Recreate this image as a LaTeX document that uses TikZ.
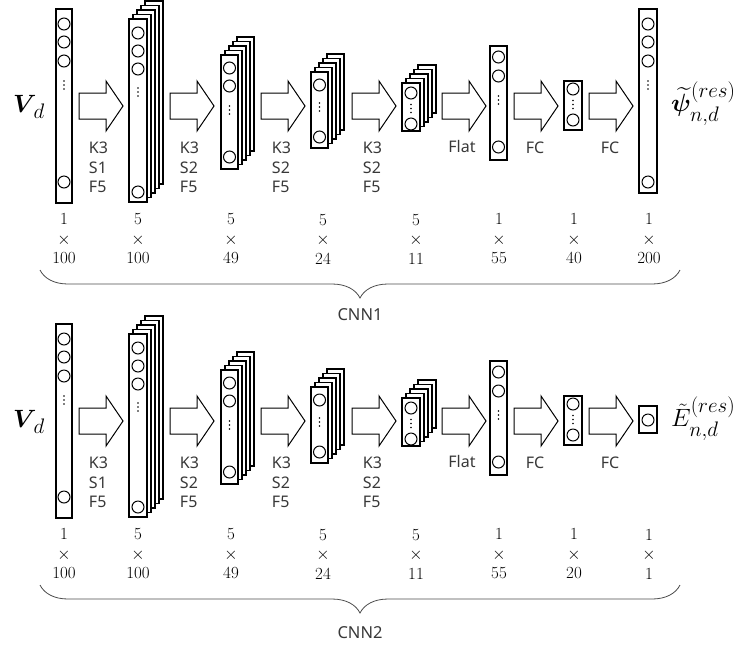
\RequirePackage{fix-cm}
\documentclass[tikz,border=0pt]{standalone}
\usepackage{amsmath,bm}
\usepackage{fontspec}
\newfontfamily\opfamily{Noto Sans}
\usetikzlibrary{decorations.pathreplacing}
\DeclareMathSizes{25}{25}{21}{16}

\newcommand\opfont{\opfamily\fontsize{16}{19.5}\selectfont}
\newcommand\dimfont{\fontsize{17}{19.5}\selectfont}
\newcommand\mathlabelfont{\fontsize{25}{25}\selectfont}

% a layer: front sheet named #1 from (#2,#3) to (#4,#5), with #6 sheets stacked behind it
\newcommand\layerstack[6]{%
  \ifnum#6>0
    \foreach \k in {#6,...,1}{%
      \draw[sheet] ({#2+4*\k},{#3-4.5*\k}) rectangle ({#4+4*\k},{#5-4.5*\k});}%
  \fi
  \node[sheet, minimum width={(#4-#2)*1pt}, minimum height={(#5-#3)*1pt}]
    (#1) at ({(#2+#4)/2},{(#3+#5)/2}) {};%
}
% one neuron
\newcommand\unitat[3]{\node[unit] (#1) at (#2,#3) {};}
% vertical ellipsis
\newcommand\vdotsat[2]{\foreach \d in {-4,0,4}{\fill ({#1},{#2+\d}) circle (0.95pt);}}
% hollow block arrow starting at x=#1 with its tip at height #2
\newcommand\blockarrow[3]{%
  \draw[arr] (#1,{#2-13}) -- ({#1+27},{#2-13}) -- ({#1+27},{#2-25}) -- ({#1+44},#2)
    -- ({#1+27},{#2+25}) -- ({#1+27},{#2+13}) -- (#1,{#2+13}) -- cycle;
  \coordinate (#3) at ({#1+22},#2);%
}

% the part shared by both networks (input up to the second fully connected layer)
\newcommand\cnnbody[1]{%
  \node[mlabel] (#1in) at (29,107) {$\bm{V}_{\,d}$};
  % input 1 x 100
  \layerstack{#1l1}{56}{9}{72}{203}{0}
  \unitat{#1l1a}{64}{24}\unitat{#1l1b}{64}{42}\unitat{#1l1c}{64}{61}
  \vdotsat{64}{85}\unitat{#1l1z}{64}{182}
  % conv 5 x 100
  \layerstack{#1l2}{129}{19}{147}{202}{4}
  \unitat{#1l2a}{138}{33}\unitat{#1l2b}{138}{51}\unitat{#1l2c}{138}{69}
  \vdotsat{138}{92}\unitat{#1l2z}{138}{192}
  % conv 5 x 49
  \layerstack{#1l3}{221}{55}{238}{169}{4}
  \unitat{#1l3a}{229.5}{68}\unitat{#1l3b}{229.5}{86}
  \vdotsat{229.5}{110}\unitat{#1l3z}{229.5}{157}
  % conv 5 x 24
  \layerstack{#1l4}{311}{72}{328}{148}{4}
  \unitat{#1l4a}{319.5}{85}
  \vdotsat{319.5}{107}\unitat{#1l4z}{319.5}{137}
  % conv 5 x 11
  \layerstack{#1l5}{402}{83}{420}{131}{4}
  \unitat{#1l5a}{411}{93}
  \vdotsat{411}{108.5}\unitat{#1l5z}{411}{124}
  % flattened 1 x 55
  \layerstack{#1l6}{490}{46}{507}{160}{0}
  \unitat{#1l6a}{498.5}{57}\unitat{#1l6b}{498.5}{76}
  \vdotsat{498.5}{100}\unitat{#1l6z}{498.5}{147}
  % fully connected hidden layer
  \layerstack{#1l7}{564}{81}{582}{130}{0}
  \unitat{#1l7a}{573}{89}
  \vdotsat{573}{104.5}\unitat{#1l7z}{573}{120}
  % operations
  \blockarrow{79}{106}{#1a1}  \node[op] (#1o1) at (98.5,167.5) {K3\\S1\\F5};
  \blockarrow{170}{106}{#1a2} \node[op] (#1o2) at (189.5,167.5) {K3\\S2\\F5};
  \blockarrow{261}{106}{#1a3} \node[op] (#1o3) at (281.5,167.5) {K3\\S2\\F5};
  \blockarrow{352}{106}{#1a4} \node[op] (#1o4) at (372.5,167.5) {K3\\S2\\F5};
  \blockarrow{442}{106}{#1a5} \node[op] (#1o5) at (462,146) {Flat};
  \blockarrow{514}{106}{#1a6} \node[op] (#1o6) at (535,148) {FC};
  \blockarrow{589}{106}{#1a7} \node[op] (#1o7) at (610,148) {FC};
  % tensor sizes
  \node[dim] (#1d1) at (64,239) {1\\$\times$\\100};
  \node[dim] (#1d2) at (138,239) {5\\$\times$\\100};
  \node[dim] (#1d3) at (231,239) {5\\$\times$\\49};
  \node[dim] (#1d4) at (323,239) {5\\$\times$\\24};
  \node[dim] (#1d5) at (416,239) {5\\$\times$\\11};
  \node[dim] (#1d6) at (499,239) {1\\$\times$\\55};
}

\begin{document}
\begin{tikzpicture}[x=1pt,y=-1pt,
  sheet/.style={draw=black, line width=1.3pt, fill=white, inner sep=0pt, outer sep=0pt},
  unit/.style={circle, draw=black, line width=1pt, fill=white, minimum size=12pt, inner sep=0pt},
  arr/.style={draw=black, line width=1pt, fill=white, line join=miter},
  op/.style={font=\opfont, text=black!78, align=left, inner sep=0pt},
  dim/.style={font=\dimfont, align=center, inner sep=0pt},
  mlabel/.style={font=\mathlabelfont, inner sep=0pt},
  grp/.style={font=\opfamily\fontsize{16.5}{16.5}\selectfont, text=black!78, inner sep=0pt},
  brace/.style={draw=black!70, line width=0.8pt,
    decorate, decoration={brace, mirror, amplitude=28pt}}]
\useasboundingbox (0,0) rectangle (738,649);

% ---- CNN1: residual wave function ----
\cnnbody{p}
\layerstack{pl8}{639}{9}{657}{193}{0}
\unitat{pl8a}{648}{24}\unitat{pl8b}{648}{42}\unitat{pl8c}{648}{61}
\vdotsat{648}{85}\unitat{pl8z}{648}{182}
\node[mlabel, anchor=west] (pout) at (671,104) {$\widetilde{\bm{\psi}}^{(res)}_{n,d}$};
\node[dim] (pd7) at (574,239) {1\\$\times$\\40};
\node[dim] (pd8) at (649,239) {1\\$\times$\\200};
\draw[brace] (40,270) -- (680,270);
\node[grp] (cnn1) at (360,315) {CNN1};

% ---- CNN2: residual energy ----
\begin{scope}[yshift=-315pt]
\cnnbody{e}
\layerstack{el8}{639}{91}{657}{118}{0}
\unitat{el8a}{648}{105}
\node[mlabel, anchor=west] (eout) at (671,104) {$\tilde{E}^{(res)}_{n,d}$};
\node[dim] (ed7) at (574,239) {1\\$\times$\\20};
\node[dim] (ed8) at (649,239) {1\\$\times$\\1};
\draw[brace] (40,270) -- (680,270);
\node[grp] (cnn2) at (360,318) {CNN2};
\end{scope}
\end{tikzpicture}
\end{document}
